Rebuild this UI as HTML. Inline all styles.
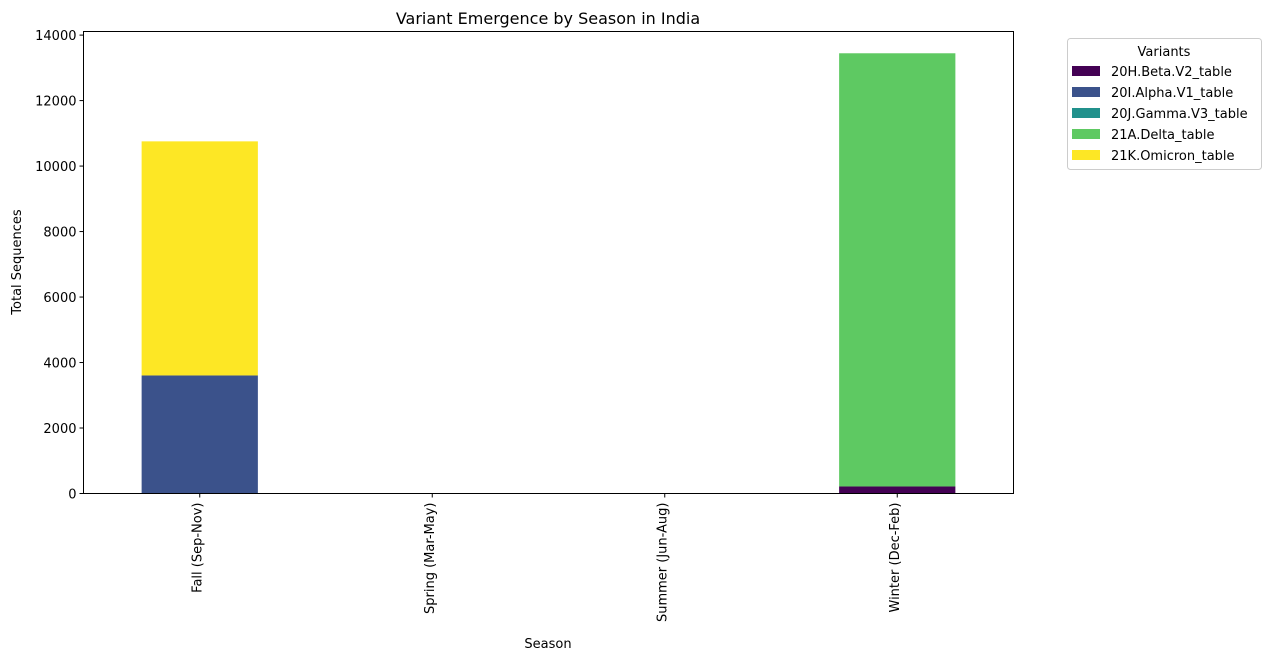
<!DOCTYPE html>
<html><head><meta charset="utf-8"><style>
body{margin:0;background:#fff;font-family:"Liberation Sans","DejaVu Sans",sans-serif}
text{font-family:"DejaVu Sans","Liberation Sans",sans-serif;fill:#000}
</style></head><body>
<svg id="chart" width="1272" height="660" xmlns="http://www.w3.org/2000/svg">
<text x="548" y="24" font-size="16" text-anchor="middle">Variant Emergence by Season in India</text>
<g id="bars"></g>
<g id="axes"></g>
<rect x="83.5" y="31.5" width="930" height="462" fill="none" stroke="#000" stroke-width="1"/>
<text x="548" y="648" font-size="13" text-anchor="middle">Season</text>
<text transform="translate(21,262) rotate(-90)" font-size="13" text-anchor="middle">Total Sequences</text>
<g>
<rect x="1067.5" y="38.5" width="194" height="131" rx="3" fill="#fff" stroke="#ccc"/>
<text x="1164" y="56" font-size="13" text-anchor="middle">Variants</text>
<g id="legend-items"></g>
</g>
</svg>
<script>
const categories=["Fall (Sep-Nov)","Spring (Mar-May)","Summer (Jun-Aug)","Winter (Dec-Feb)"];
const seriesNames=["20H.Beta.V2_table","20I.Alpha.V1_table","20J.Gamma.V3_table","21A.Delta_table","21K.Omicron_table"];
const colors=["#440154","#3b528b","#21918c","#5ec962","#fde725"];
const beta=[0,0,0,215];
const alpha=[3605,0,0,0];
const gamma=[0,0,0,0];
const delta=[0,0,0,13230];
const omicron=[7150,0,0,0];
const yTicks=[0,2000,4000,6000,8000,10000,12000,14000];
const series=[beta,alpha,gamma,delta,omicron];
const NS="http://www.w3.org/2000/svg";
const x0=83.5,x1=1013.5,yb=493.5,yt=31.5,ymax=14110;
const xs=i=>x0+(i+0.5)*(x1-x0)/categories.length;
const ys=v=>yb-v/ymax*(yb-yt);
const bw=0.5*(x1-x0)/categories.length;
const gb=document.getElementById('bars'),ga=document.getElementById('axes'),gl=document.getElementById('legend-items');
categories.forEach((c,i)=>{let acc=0;
 series.forEach((s,k)=>{const v=s[i];if(v>0){const r=document.createElementNS(NS,'rect');
 
 
 r.setAttribute('x',xs(i)-bw/2);r.setAttribute('width',bw);r.setAttribute('y',ys(acc+v));r.setAttribute('height',ys(acc)-ys(acc+v));r.setAttribute('fill',colors[k]);gb.appendChild(r);}acc+=v;});
 const t=document.createElementNS(NS,'line');
 
 
 t.setAttribute('x1',xs(i));t.setAttribute('x2',xs(i));t.setAttribute('y1',yb);t.setAttribute('y2',yb+4);t.setAttribute('stroke','#000');ga.appendChild(t);
 const l=document.createElementNS(NS,'text');
 
 
 l.setAttribute('transform','translate('+(xs(i)+1.5)+','+(yb+9)+') rotate(-90)');l.setAttribute('text-anchor','end');l.setAttribute('font-size','13');l.textContent=c;ga.appendChild(l);
});
yTicks.forEach(v=>{const t=document.createElementNS(NS,'line');
 
 
 t.setAttribute('x1',x0-4);t.setAttribute('x2',x0);t.setAttribute('y1',ys(v));t.setAttribute('y2',ys(v));t.setAttribute('stroke','#000');ga.appendChild(t);
 const l=document.createElementNS(NS,'text');
 
 
 l.setAttribute('x',x0-7);l.setAttribute('y',ys(v)+5);l.setAttribute('text-anchor','end');l.setAttribute('font-size','13');l.textContent=v;ga.appendChild(l);});
seriesNames.forEach((n,k)=>{const y=71+k*21;const r=document.createElementNS(NS,'rect');
 
 
 r.setAttribute('x',1072);r.setAttribute('y',y-5);r.setAttribute('width',28);r.setAttribute('height',10);r.setAttribute('fill',colors[k]);gl.appendChild(r);
 const t=document.createElementNS(NS,'text');
 
 
 t.setAttribute('x',1111);t.setAttribute('y',y+5);t.setAttribute('font-size','13');t.textContent=n;gl.appendChild(t);});
</script>
</body></html>
